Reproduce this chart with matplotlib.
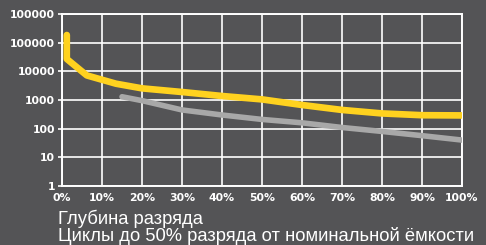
import matplotlib
matplotlib.use("Agg")
import matplotlib.pyplot as plt
from matplotlib.ticker import FixedLocator, NullLocator

# Data
yellow_dod = [1.2, 1.2, 6.2, 13.5, 20, 30, 40, 50, 60, 70, 80, 90, 100]
yellow_cycles = [185000, 27000, 7200, 3700, 2550, 1900, 1380, 1050, 670, 450, 340, 295, 290]
gray_dod = [15, 20, 30, 40, 50, 60, 70, 80, 90, 100]
gray_cycles = [1300, 950, 450, 300, 210, 160, 110, 80, 57, 40]

x_ticks = [0, 10, 20, 30, 40, 50, 60, 70, 80, 90, 100]
x_labels = ["0%", "10%", "20%", "30%", "40%", "50%", "60%", "70%", "80%", "90%", "100%"]
y_ticks = [1, 10, 100, 1000, 10000, 100000, 1000000]
y_labels = ["1", "10", "100", "1000", "10000", "100000", "100000"]

line1 = "Глубина разряда"
line2 = "Циклы до 50% разряда от номинальной ёмкости"

BG = "#545456"
fig = plt.figure(figsize=(4.86, 2.45), dpi=100, facecolor=BG)
ax = fig.add_axes([62/486, 1-186/245, 400/486, 172/245])
ax.set_facecolor(BG)

ax.set_yscale("log")
ax.set_xlim(0, 100)
ax.set_ylim(1, 1000000)

ax.plot(gray_dod, gray_cycles, color="#a8a8a8", lw=4.0, solid_capstyle="round",
        solid_joinstyle="round", zorder=3)
ax.plot(yellow_dod, yellow_cycles, color="#ffd21f", lw=4.8, solid_capstyle="round",
        solid_joinstyle="round", zorder=4)

ax.xaxis.set_major_locator(FixedLocator(x_ticks))
ax.set_xticklabels(x_labels)
ax.yaxis.set_major_locator(FixedLocator(y_ticks))
ax.yaxis.set_minor_locator(NullLocator())
ax.set_yticklabels(y_labels)

ax.grid(True, color="white", lw=1.2, zorder=1)
for s in ax.spines.values():
    s.set_color("white")
    s.set_linewidth(1.4)

ax.tick_params(axis="y", colors="white", length=3, width=1.2, pad=2, labelsize=7.8)
ax.tick_params(axis="x", colors="white", length=0, pad=5, labelsize=7.8)
for lbl in ax.get_xticklabels() + ax.get_yticklabels():
    lbl.set_fontweight("bold")
    lbl.set_color("white")

fig.text(58/486, 1-224/245, line1, color="white", fontsize=13.2, family="Liberation Sans",
         ha="left", va="baseline")
fig.text(58/486, 1-241/245, line2, color="white", fontsize=13.2, family="Liberation Sans",
         ha="left", va="baseline")

fig.savefig("out.png", dpi=100, facecolor=BG)
